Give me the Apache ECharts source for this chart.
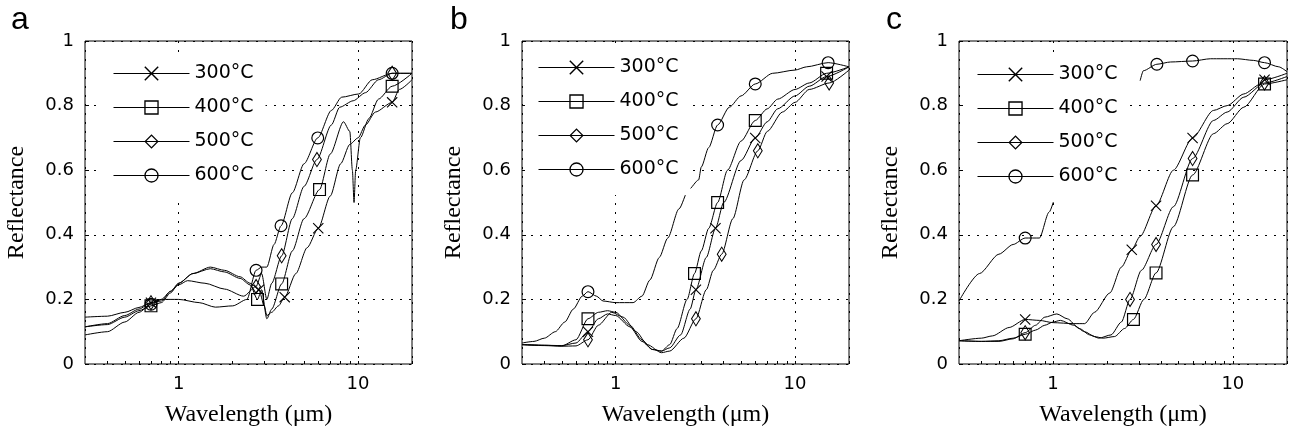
<!DOCTYPE html>
<html>
<head>
<meta charset="utf-8">
<script src="https://cdn.jsdelivr.net/npm/echarts@6/dist/echarts.min.js"></script>
<style>html,body{margin:0;padding:0;background:#fff;}#chart{width:1292px;height:432px;}</style>
</head>
<body>
<div id="chart"></div>
<script>
// ---------- data ----------
const seriesNames = ['300°C', '400°C', '500°C', '600°C'];
const panelLetters = ['a', 'b', 'c'];
const xTickLabels = [1, 10];
const xMinorTicks = [0.4, 0.5, 0.6, 0.7, 0.8, 0.9, 1, 2, 3, 4, 5, 6, 7, 8, 9, 10, 20];

// Panel a
const a300 = [[0.3,0.145],[0.4,0.148],[0.5,0.16],[0.6,0.175],[0.7,0.19],[0.8,0.2],[0.9,0.225],[1.0,0.25],[1.2,0.28],[1.5,0.3],[1.8,0.29],[2.2,0.27],[2.5,0.25],[2.8,0.23],[3.0,0.18],[3.1,0.15],[3.3,0.16],[3.6,0.18],[3.9,0.207],[4.5,0.28],[5.2,0.36],[6.0,0.42],[7.0,0.52],[8.0,0.62],[9.0,0.68],[10,0.70],[11,0.74],[12.5,0.78],[15.5,0.81],[17,0.85],[20,0.88]];
const a400 = [[0.3,0.115],[0.4,0.122],[0.5,0.145],[0.6,0.165],[0.7,0.18],[0.8,0.19],[0.9,0.22],[1.0,0.25],[1.2,0.28],[1.5,0.295],[1.8,0.285],[2.2,0.265],[2.5,0.245],[2.75,0.2],[2.9,0.23],[3.1,0.14],[3.3,0.17],[3.75,0.248],[4.3,0.35],[5.0,0.45],[6.1,0.54],[7.0,0.65],[8.3,0.75],[9.0,0.72],[9.3,0.6],[9.5,0.5],[9.7,0.6],[10.3,0.7],[11.5,0.76],[13,0.82],[15.5,0.86],[20,0.9]];
const a500 = [[0.3,0.115],[0.4,0.125],[0.5,0.15],[0.6,0.17],[0.7,0.19],[0.8,0.195],[0.9,0.225],[1.0,0.245],[1.12,0.258],[1.4,0.25],[1.8,0.232],[2.3,0.21],[2.7,0.24],[2.9,0.28],[3.1,0.2],[3.3,0.25],[3.75,0.335],[4.3,0.45],[5.0,0.55],[5.9,0.633],[7.1,0.74],[7.9,0.795],[9.4,0.815],[11,0.84],[13,0.88],[15.5,0.9],[20,0.9]];
const a600 = [[0.3,0.09],[0.4,0.1],[0.5,0.13],[0.6,0.16],[0.7,0.185],[0.8,0.2],[1.0,0.2],[1.3,0.19],[1.6,0.176],[2.0,0.18],[2.4,0.2],[2.7,0.29],[2.9,0.3],[3.1,0.3],[3.4,0.37],[3.72,0.428],[4.3,0.53],[5.0,0.62],[5.96,0.7],[7.1,0.785],[8.1,0.826],[10.1,0.836],[12,0.88],[15.5,0.9],[20,0.9]];
const aMark300 = [0.7, 2.8, 3.9, 6.0, 15.5];
const aMark400 = [0.7, 2.75, 3.75, 6.1, 15.5];
const aMark500 = [0.7, 2.7, 3.75, 5.9, 15.5];
const aMark600 = [0.7, 2.7, 3.72, 5.96, 15.5];

// Panel b
const b300 = [[0.3,0.06],[0.4,0.058],[0.5,0.057],[0.6,0.065],[0.7,0.1],[0.8,0.14],[0.9,0.155],[1.0,0.15],[1.2,0.115],[1.4,0.07],[1.6,0.045],[1.8,0.04],[2.0,0.05],[2.3,0.09],[2.6,0.17],[2.8,0.23],[3.2,0.33],[3.6,0.42],[4.0,0.5],[5.0,0.63],[6.0,0.7],[7.0,0.75],[8.0,0.79],[10,0.83],[12,0.86],[15,0.89],[20,0.92]];
const b400 = [[0.3,0.06],[0.4,0.058],[0.5,0.056],[0.6,0.075],[0.7,0.14],[0.8,0.16],[0.9,0.165],[1.0,0.16],[1.2,0.12],[1.4,0.075],[1.6,0.045],[1.8,0.04],[2.0,0.06],[2.2,0.11],[2.5,0.2],[2.75,0.28],[3.0,0.35],[3.3,0.42],[3.7,0.5],[4.2,0.6],[5.0,0.69],[6.0,0.754],[7.0,0.79],[8.0,0.82],[10,0.85],[12,0.87],[15,0.9],[20,0.92]];
const b500 = [[0.3,0.06],[0.4,0.057],[0.5,0.055],[0.6,0.056],[0.7,0.075],[0.8,0.12],[0.95,0.16],[1.1,0.145],[1.3,0.1],[1.5,0.06],[1.8,0.035],[2.0,0.04],[2.4,0.08],[2.8,0.14],[3.2,0.23],[3.5,0.29],[3.9,0.34],[4.5,0.45],[5.2,0.57],[6.2,0.66],[7.0,0.72],[8.5,0.78],[10,0.81],[12,0.85],[15.5,0.87],[20,0.91]];
const b600 = [[0.3,0.065],[0.35,0.07],[0.4,0.08],[0.46,0.1],[0.52,0.13],[0.58,0.17],[0.65,0.21],[0.7,0.224],[0.78,0.21],[0.85,0.195],[1.0,0.19],[1.25,0.19],[1.4,0.21],[1.55,0.26],[1.75,0.33],[1.95,0.39],[2.25,0.48],[2.55,0.54],[2.9,0.57],[3.0,0.61],[3.3,0.67],[3.7,0.74],[4.3,0.795],[5.0,0.83],[6.0,0.867],[7.5,0.9],[10,0.91],[11.6,0.92],[15.3,0.933],[20,0.92]];
const bMark300 = [0.7, 2.8, 3.6, 6.0, 15];
const bMark400 = [0.7, 2.75, 3.7, 6.0, 15];
const bMark500 = [0.7, 2.8, 3.9, 6.2, 15.5];
const bMark600 = [0.7, 3.7, 6.0, 15.3];

// Panel c
const c300 = [[0.3,0.072],[0.4,0.08],[0.46,0.087],[0.57,0.113],[0.7,0.138],[0.84,0.135],[1.0,0.128],[1.3,0.125],[1.5,0.125],[1.7,0.16],[2.07,0.22],[2.4,0.3],[2.74,0.354],[3.05,0.395],[3.74,0.49],[4.67,0.6],[5.97,0.7],[7.8,0.785],[9.3,0.8],[11.5,0.836],[14.3,0.867],[15,0.88],[20,0.9]];
const c400 = [[0.3,0.072],[0.4,0.07],[0.5,0.072],[0.6,0.08],[0.7,0.092],[0.8,0.105],[0.9,0.12],[1.0,0.13],[1.1,0.135],[1.3,0.12],[1.5,0.1],[1.7,0.085],[1.9,0.08],[2.2,0.085],[2.5,0.11],[2.8,0.138],[3.2,0.2],[3.74,0.282],[4.67,0.425],[5.97,0.585],[7.8,0.713],[9.3,0.744],[11.5,0.795],[15,0.867],[20,0.88]];
const c500 = [[0.3,0.072],[0.4,0.07],[0.5,0.07],[0.6,0.078],[0.7,0.097],[0.8,0.12],[0.9,0.145],[1.05,0.155],[1.2,0.14],[1.4,0.11],[1.6,0.09],[1.8,0.08],[2.1,0.09],[2.4,0.13],[2.68,0.2],[3.1,0.29],[3.74,0.37],[4.67,0.487],[5.97,0.636],[7.8,0.754],[9.3,0.78],[11.5,0.826],[15,0.87],[20,0.89]];
const c600 = [[0.3,0.195],[0.39,0.28],[0.5,0.34],[0.6,0.37],[0.7,0.39],[0.84,0.39],[0.95,0.47],[1.04,0.53],[1.5,null],[3.05,0.877],[3.18,0.908],[3.78,0.928],[4.5,0.935],[5.97,0.938],[7.5,0.945],[10.6,0.945],[13,0.94],[15,0.933],[18,0.92],[20,0.905]];
const cMark300 = [0.7, 2.74, 3.74, 5.97, 15];
const cMark400 = [0.7, 2.8, 3.74, 5.97, 15];
const cMark500 = [0.7, 2.68, 3.74, 5.97, 15];
const cMark600 = [0.7, 3.78, 5.97, 15];

// ---------- layout / style ----------
const panelData = [[a300, a400, a500, a600], [b300, b400, b500, b600], [c300, c400, c500, c600]];
const panelMarks = [[aMark300, aMark400, aMark500, aMark600], [bMark300, bMark400, bMark500, bMark600], [cMark300, cMark400, cMark500, cMark600]];
const grids = [
  {left: 85, top: 41, width: 327, height: 325},
  {left: 522, top: 41, width: 327, height: 325},
  {left: 959, top: 41, width: 328, height: 325}
];
const legendPos = [{left: 100, top: 54}, {left: 525, top: 48}, {left: 964, top: 55}];
const letterPos = [11, 450, 886];

const SYMBOLS = [
  {symbol: 'path://M0,0.7L0.7,0L10,9.3L9.3,10Z M9.3,0L10,0.7L0.7,10L0,9.3Z', size: 11},
  {symbol: 'path://M0,0L13,0L13,13L0,13Z M1.2,1.2L1.2,11.8L11.8,11.8L11.8,1.2Z', size: 13},
  {symbol: 'path://M5,0L10,8L5,16L0,8Z M5,1.9L1.2,8L5,14.1L8.8,8Z', size: [10, 16]},
  {symbol: 'path://M6.5,0A6.5,6.5 0 1 1 6.5,13A6.5,6.5 0 1 1 6.5,0Z M6.5,1.2A5.3,5.3 0 1 0 6.5,11.8A5.3,5.3 0 1 0 6.5,1.2Z', size: 13}
];

const sansFont = 'DejaVu Sans';
const serifFont = 'Liberation Serif';
const dotted = {color: '#000', width: 1, type: [2, 7]};

const xAxes = [], yAxes = [], series = [], legends = [], titles = [];
grids.forEach((g, p) => {
  // main x axis: ticks and labels
  xAxes.push({
    type: 'log', logBase: 10, min: 0.3, max: 20, gridIndex: p,
    name: 'Wavelength (μm)', nameLocation: 'middle', nameGap: 39,
    nameTextStyle: {fontFamily: serifFont, fontSize: 24, color: '#000'},
    axisLine: {show: false},
    axisTick: {show: true, inside: true, length: 3, customValues: xMinorTicks, lineStyle: {color: '#000', width: 1}},
    axisLabel: {customValues: xTickLabels, margin: 11, fontFamily: sansFont, fontSize: 18, color: '#000',
      formatter: v => (Math.abs(v - 1) < 1e-6 ? '1' : (Math.abs(v - 10) < 1e-5 ? '10' : ''))},
    splitLine: {show: false}
  });
  yAxes.push({
    type: 'value', min: 0, max: 1, interval: 0.2, gridIndex: p,
    name: 'Reflectance', nameLocation: 'middle', nameGap: 56, nameRotate: 90,
    nameTextStyle: {fontFamily: serifFont, fontSize: 24, color: '#000'},
    axisLine: {show: false},
    axisTick: {show: true, inside: true, length: 4, lineStyle: {color: '#000'}},
    axisLabel: {margin: 11, fontFamily: sansFont, fontSize: 18, color: '#000',
      formatter: v => (v === 0 ? '0' : (v === 1 ? '1' : v.toFixed(1)))},
    splitLine: {show: true, lineStyle: dotted}
  });
});
// secondary x axes: only the decade grid lines
grids.forEach((g, p) => {
  xAxes.push({
    type: 'log', logBase: 10, min: 0.3, max: 20, gridIndex: p, position: 'top',
    axisLine: {show: false}, axisTick: {show: false}, axisLabel: {show: false},
    splitLine: {show: true, lineStyle: dotted}
  });
});
grids.forEach((g, p) => {
  seriesNames.forEach((name, s) => {
    const marks = panelMarks[p][s];
    const sym = SYMBOLS[s];
    series.push({
      type: 'line', name: name, xAxisIndex: p, yAxisIndex: p,
      data: panelData[p][s],
      symbol: sym.symbol,
      symbolSize: v => (marks.some(m => Math.abs(m - v[0]) < 1e-9) ? sym.size : 0),
      showSymbol: true,
      connectNulls: false,
      smooth: 0.25, smoothMonotone: 'x',
      lineStyle: {color: '#000', width: 1},
      itemStyle: {color: '#000'},
      emphasis: {disabled: true},
      animation: false
    });
  });
  legends.push({
    data: seriesNames, orient: 'vertical',
    left: legendPos[p].left, top: legendPos[p].top,
    padding: [10, 12, 16, 13],
    backgroundColor: '#fff',
    itemWidth: 76, itemHeight: 18, itemGap: 15,
    selectedMode: false,
    textStyle: {fontFamily: sansFont, fontSize: 19, color: '#000', lineHeight: 18},
    lineStyle: {color: '#000', width: 1}
  });
  titles.push({
    text: panelLetters[p], left: letterPos[p], top: 4, padding: 0,
    textStyle: {fontFamily: 'Liberation Sans', fontSize: 32, fontWeight: 'normal', color: '#000'}
  });
});

const chart = echarts.init(document.getElementById('chart'), null, {renderer: 'canvas'});
chart.setOption({
  animation: false,
  backgroundColor: '#fff',
  title: titles,
  grid: grids.map(g => Object.assign({show: true, borderColor: '#000', borderWidth: 1, backgroundColor: 'transparent', containLabel: false}, g)),
  xAxis: xAxes,
  yAxis: yAxes,
  legend: legends,
  series: series
});
</script>
</body>
</html>
